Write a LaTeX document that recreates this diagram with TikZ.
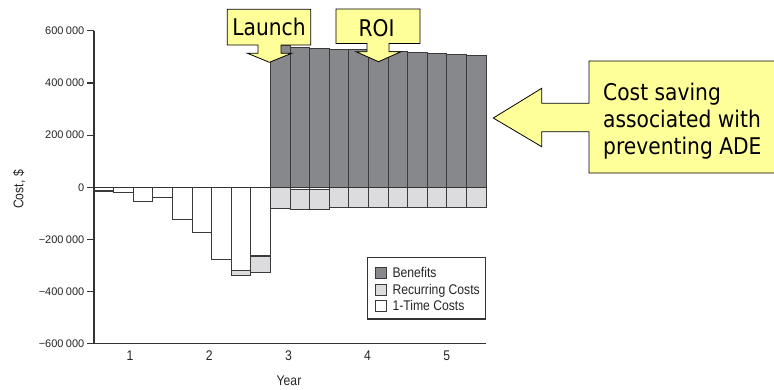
\documentclass[tikz,border=0pt]{standalone}
\usepackage{fontspec}
\setmainfont{Liberation Sans}
\newfontfamily\calloutfont[FakeStretch=0.88]{DejaVu Sans}
\newfontfamily\legendfont[FakeStretch=0.87]{Liberation Sans}

\definecolor{benefit}{HTML}{87888B}
\definecolor{recurring}{HTML}{DCDCDE}
\definecolor{barline}{HTML}{3A3A3A}
\definecolor{axisline}{HTML}{333333}
\definecolor{calloutfill}{HTML}{FFFF99}

% value in thousands of dollars -> vertical position
\newcommand\valy[1]{187.3-0.2608*(#1)}
% left edge of quarter bar number #1
\newcommand\barx[1]{94+19.6*((#1)-1)}

\begin{document}
\begin{tikzpicture}[x=1pt,y=-1pt,
  barbox/.style={draw=barline,line width=0.9pt},
  onetime/.style={barbox,fill=white},
  recur/.style={barbox,fill=recurring},
  benefitbar/.style={barbox,fill=benefit},
  axis/.style={draw=axisline,line width=1.1pt},
  ticklabel/.style={font=\fontsize{11}{13}\selectfont,inner sep=0pt,anchor=east,text=black!85},
  yearlabel/.style={font=\legendfont\fontsize{14}{16}\selectfont,inner sep=0pt,anchor=base,text=black!85},
  legendtext/.style={font=\legendfont\fontsize{14}{16}\selectfont,inner sep=0pt,anchor=base west,text=black!85},
  legendkey/.style={draw=barline,line width=0.9pt},
  callout/.style={draw=black,line width=0.8pt,fill=calloutfill,line join=miter},
  callouttext/.style={font=\calloutfont\fontsize{23}{27}\selectfont,inner sep=0pt,text=black}
]
\useasboundingbox (0,0) rectangle (774,389);
\fill[white] (0,0) rectangle (774,389);

% benefits above zero
\foreach \i/\v in {10/542,11/538,12/533,13/528,14/527,15/523,16/520,17/518,18/514,19/511,20/506}
  \draw[benefitbar] ({\barx{\i}},{\valy{0}}) rectangle ({\barx{\i}+19.6},{\valy{\v}});

% one-time costs below zero
\foreach \i/\v in {1/-12,2/-20,3/-53,4/-40,5/-124,6/-175,7/-277,8/-317,9/-263,11/-10,12/-10}
  \draw[onetime] ({\barx{\i}},{\valy{0}}) rectangle ({\barx{\i}+19.6},{\valy{\v}});

% recurring costs stacked below the one-time costs
\foreach \i/\t/\b in {1/-12/-16,8/-317/-337,9/-263/-327,10/0/-80,11/-10/-86,12/-10/-86,
  13/0/-78,14/0/-78,15/0/-78,16/0/-78,17/0/-78,18/0/-78,19/0/-78,20/0/-78}
  \draw[recur] ({\barx{\i}},{\valy{\t}}) rectangle ({\barx{\i}+19.6},{\valy{\b}});
\draw[barline,line width=1.8pt] ({\barx{9}},{\valy{-263}}) -- ({\barx{9}+19.6},{\valy{-263}});

% axes
\draw[axis] (94,{\valy{0}}) -- (486,{\valy{0}});
\draw[axis] (94,{\valy{600}}) -- (94,{\valy{-600}}) -- (486,{\valy{-600}});
\foreach \v/\lab [count=\k] in {600/600\hspace{2.4pt}000,400/400\hspace{2.4pt}000,200/200\hspace{2.4pt}000,0/0,
  -200/\char"2212 200\hspace{2.4pt}000,-400/\char"2212 400\hspace{2.4pt}000,-600/\char"2212 600\hspace{2.4pt}000}{
  \draw[axis] (87,{\valy{\v}}) -- (94,{\valy{\v}});
  \node[ticklabel] (tick\k) at (84.5,{\valy{\v}}) {\lab};
}
\node[font=\legendfont\fontsize{14}{16}\selectfont,rotate=90,inner sep=0pt,text=black!85] (ylabel) at (19,189.5) {Cost, \$};

\foreach \k in {1,...,5}
  \node[yearlabel] (year\k) at ({130+79.2*(\k-1)},360) {\k};
\node[yearlabel] (xlabel) at (289,385) {Year};

% legend
\draw[draw=axisline,line width=1.1pt,fill=white] (367.7,257.7) rectangle (485.7,319);
\draw[legendkey,fill=benefit] (375,267.3) rectangle (386.3,278.3);
\draw[legendkey,fill=recurring] (375,284) rectangle (386.3,295);
\draw[legendkey,fill=white] (375,300) rectangle (386.3,311);
\node[legendtext] (legben) at (392.3,277.6) {Benefits};
\node[legendtext] (legrec) at (392.3,294.2) {Recurring Costs};
\node[legendtext] (legone) at (392.3,310.4) {1-Time Costs};

% callouts
\draw[callout] (227.3,9.3) -- (310.7,9.3) -- (310.7,45) -- (281,45) -- (281,53.3) -- (291.5,53.3)
  -- (269.5,62.3) -- (247.5,53.3) -- (258,53.3) -- (258,45) -- (227.3,45) -- cycle;
\node[callouttext,anchor=base] (launch) at (269,35.7) {Launch};

\draw[callout] (336,9) -- (420,9) -- (420,43.5) -- (389,43.5) -- (389,51.7) -- (401,51.7)
  -- (378.5,61.7) -- (356,51.7) -- (367,51.7) -- (367,43.5) -- (336,43.5) -- cycle;
\node[callouttext,anchor=base] (roi) at (376.5,36.7) {ROI};

\draw[callout] (589,61) -- (776,61) -- (776,173) -- (589,173) -- (589,131.7) -- (541.7,131.7)
  -- (541.7,146.7) -- (493.3,118) -- (541.7,88.3) -- (541.7,103.3) -- (589,103.3) -- cycle;
\node[callouttext,anchor=base west] (save1) at (603,100) {Cost saving};
\node[callouttext,anchor=base west] (save2) at (603,127.3) {associated with};
\node[callouttext,anchor=base west] (save3) at (603,154.3) {preventing ADE};
\end{tikzpicture}
\end{document}
